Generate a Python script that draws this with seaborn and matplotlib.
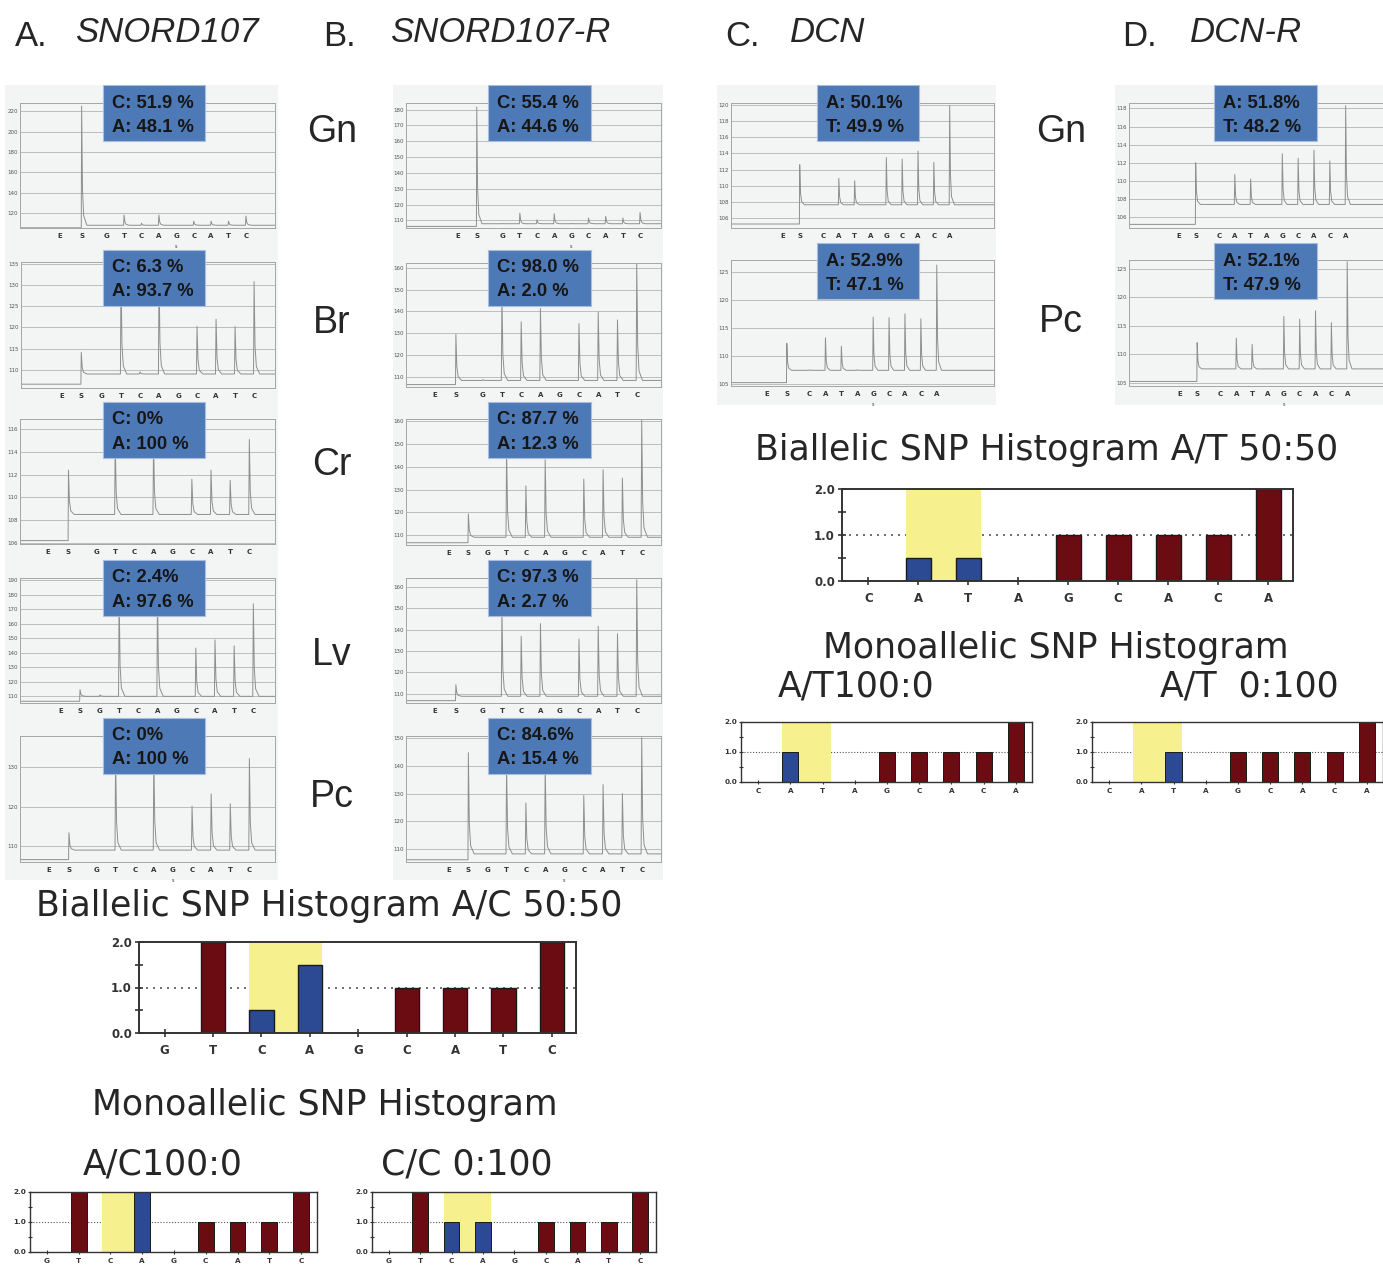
import numpy as np
import pandas as pd
import matplotlib
matplotlib.use("Agg")
import matplotlib.pyplot as plt
from matplotlib.patches import Rectangle
import seaborn as sns

sns.set_theme(style="ticks")
plt.rcParams['font.family'] = ['DejaVu Sans']

# ------------------------------------------------------------------ data
snord_disp = ["E", "S", "G", "T", "C", "A", "G", "C", "A", "T", "C"]
dcn_disp = ["E", "S", "C", "A", "T", "A", "G", "C", "A", "C", "A"]

tissues_ab = ["Gn", "Br", "Cr", "Lv", "Pc"]
tissues_cd = ["Gn", "Pc"]

snord107_pct = [("C: 51.9 %", "A: 48.1 %"), ("C: 6.3 %", "A: 93.7 %"),
                ("C: 0%", "A: 100 %"), ("C: 2.4%", "A: 97.6 %"), ("C: 0%", "A: 100 %")]
snord107r_pct = [("C: 55.4 %", "A: 44.6 %"), ("C: 98.0 %", "A: 2.0 %"),
                 ("C: 87.7 %", "A: 12.3 %"), ("C: 97.3 %", "A: 2.7 %"), ("C: 84.6%", "A: 15.4 %")]
dcn_pct = [("A: 50.1%", "T: 49.9 %"), ("A: 52.9%", "T: 47.1 %")]
dcnr_pct = [("A: 51.8%", "T: 48.2 %"), ("A: 52.1%", "T: 47.9 %")]

# peak heights: S, then the nine nucleotide dispensations
snord107_peaks = [
    [225, 108, 118, 110, 118, 108, 112, 112, 112, 117],
    [114.1, 109.0, 133, 109.5, 133, 109.0, 120.2, 121.9, 120.2, 130.8],
    [112.4, 108.5, 115.0, 108.5, 115.0, 108.5, 111.6, 112.4, 111.5, 115.1],
    [114.6, 111, 180, 110, 180, 110, 143.3, 149, 144.8, 173.8],
    [113.4, 109, 133, 109, 133, 109, 120.1, 123.2, 120.7, 132.1],
]
snord107r_peaks = [
    [181.7, 108, 114.6, 110.4, 114.2, 108, 111.5, 112.6, 111.5, 115],
    [129.5, 108.8, 148, 135.3, 141.4, 108.5, 134.5, 139.8, 136.1, 162.1],
    [119.3, 109, 148, 131.6, 143.1, 109, 134.6, 138.7, 135, 160.4],
    [114.2, 108.75, 150, 136.9, 142.8, 108.75, 135.6, 141.6, 138.1, 163.4],
    [144.6, 108.4, 140, 126.6, 140, 108.4, 129.3, 133.2, 130, 150],
]
dcn_peaks = [
    [112.6, 107.6, 110.9, 110.6, 107.6, 113.5, 113.3, 114.3, 112.9, 120],
    [112.2, 107.5, 113.2, 111.7, 107.5, 116.9, 116.8, 117.5, 116.6, 126.2],
]
dcnr_peaks = [
    [112, 107.4, 110.7, 110.2, 107.4, 113, 112.5, 113.4, 112.2, 118.3],
    [112, 107.4, 112.8, 111.7, 107.4, 116.6, 116.1, 117.6, 115.5, 126.2],
]
# baselines (before S, after S)
snord107_base = [(105.5, 108.0), (106.6, 109.0), (106.2, 108.5), (106.6, 110.0), (106.6, 109.0)]
snord107r_base = [(106.2, 107.9), (106.6, 108.5), (106.6, 109.0), (106.7, 108.75), (106.3, 108.4)]
dcn_base = [(105.2, 107.6), (105.2, 107.4)]
dcnr_base = [(105.2, 107.4), (105.2, 107.4)]
# E and S dispensation times (cycles before the first nucleotide)
snord107_es = [(2.72, 1.44), (2.14, 1.09), (2.52, 1.44), (2.03, 1.04), (2.49, 1.44)]
snord107r_es = [(2.62, 1.51), (2.48, 1.39), (2.02, 0.98), (2.48, 1.39), (2.02, 0.98)]
dcn_es = [(2.53, 1.47), (2.68, 1.43)]
dcnr_es = [(2.53, 1.47), (2.57, 1.47)]

# histograms
ac_labels = ["G", "T", "C", "A", "G", "C", "A", "T", "C"]
ac_biallelic = [0, 2, 0.5, 1.5, 0, 1, 1, 1, 2]
ac_mono_a = [0, 2, 0, 2, 0, 1, 1, 1, 2]
ac_mono_c = [0, 2, 1, 1, 0, 1, 1, 1, 2]
ac_snp = [2, 3]
at_labels = ["C", "A", "T", "A", "G", "C", "A", "C", "A"]
at_biallelic = [0, 0.5, 0.5, 0, 1, 1, 1, 1, 2]
at_mono_a = [0, 1, 0, 0, 1, 1, 1, 1, 2]
at_mono_t = [0, 0, 1, 0, 1, 1, 1, 1, 2]
at_snp = [1, 2]

# ------------------------------------------------------------------ layout / style
W, H = 1383, 1266
fig = plt.figure(figsize=(W / 100, H / 100), dpi=100)
fig.patch.set_facecolor("white")

PANEL = "#f3f4f4"
GRID = "#b4b4b4"
TRACE = "#8f8f8f"
BOXBLUE = "#4d79b6"
MAROON = "#6b0b12"
BLUE = "#2b4a93"
YELLOW = "#f7f08e"
SANS = "Liberation Sans"


def frac(x0, y0, x1, y1):
    return [x0 / W, 1 - y1 / H, (x1 - x0) / W, (y1 - y0) / H]


def add_rect(x0, y0, x1, y1, **kw):
    fig.add_artist(Rectangle((x0 / W, 1 - y1 / H), (x1 - x0) / W, (y1 - y0) / H,
                             transform=fig.transFigure, **kw))


def trace_points(e_s, peaks, base, win):
    xs = [-e_s[1]] + list(range(9))
    pre, post = base
    px = [-win[0], xs[0] - 0.02]
    py = [pre, pre]
    for i, (x, h) in enumerate(zip(xs, peaks)):
        if i > 0:
            px.append(x - 0.03)
            py.append(post)
        px += [x, x + 0.05, x + 0.12, x + 0.3]
        py += [h, post + (h - post) * 0.3, post + (h - post) * 0.08, post]
    px.append(win[1])
    py.append(post)
    return px, py


def pyro(rect_px, disp, e_s, peaks, base, win, ylim, yt, lines, box):
    ax = fig.add_axes(frac(*rect_px))
    ax.set_facecolor(PANEL)
    px, py = trace_points(e_s, peaks, base, win)
    sns.lineplot(x=px, y=py, ax=ax, sort=False, estimator=None,
                 color=TRACE, linewidth=0.7)
    ax.set_xlim(-win[0], win[1])
    ax.set_ylim(*ylim)
    ax.set_yticks(np.arange(yt[0], yt[1] + 0.01, yt[2]))
    ax.yaxis.grid(True, color=GRID, lw=0.6)
    ax.xaxis.grid(False)
    ax.set_xticks([-e_s[0], -e_s[1]] + list(range(9)), disp)
    ax.tick_params(axis="x", length=0, labelsize=5, pad=3.5, colors="#333333")
    for lab in ax.get_xticklabels():
        lab.set_fontweight("bold")
    ax.tick_params(axis="y", length=0, labelsize=4, pad=1.5, colors="#555555")
    ax.set_xlabel("")
    ax.set_ylabel("")
    for s in ax.spines.values():
        s.set_color("#a5a5a5")
        s.set_linewidth(0.7)
    ax.annotate("s", xy=(4, 0), xycoords=("data", "axes fraction"), xytext=(0, -13),
                textcoords="offset points", ha="center", va="center", fontsize=3.5,
                color="#333333")
    bx0, by0, bx1, by1 = box
    add_rect(bx0, by0, bx1, by1, facecolor=BOXBLUE, edgecolor="#a9bedf", lw=0.8, zorder=5)
    for k, t in enumerate(lines):
        fig.text((bx0 + 9) / W, 1 - (by0 + 18 + 24 * k) / H, t, family=SANS,
                 fontsize=13.2, fontweight="bold", color="#161616", ha="left",
                 va="center", zorder=6)
    return ax


def histo(rect_px, labels, vals, snp, big):
    ax = fig.add_axes(frac(*rect_px))
    ax.set_facecolor("white")
    df = pd.DataFrame({"pos": list(range(len(vals))), "val": vals,
                       "kind": ["snp" if i in snp else "ref" for i in range(len(vals))]})
    ax.axhline(1.0, color="#555555", ls=(0, (1.2, 3.0)) if big else (0, (1.0, 1.6)),
               lw=1.2 if big else 0.8, zorder=0.5)
    ax.axvspan(snp[0] - 0.25, snp[-1] + 0.25, color=YELLOW, lw=0, zorder=1)
    sns.barplot(data=df, x="pos", y="val", hue="kind", palette={"ref": MAROON, "snp": BLUE},
                dodge=False, width=0.5, legend=False, saturation=1, edgecolor="#1a1a1a",
                linewidth=1.0 if big else 0.7, ax=ax, zorder=2)
    ax.set_xlim(-0.53, 8.5)
    ax.set_ylim(0, 2.0)
    ax.set_xlabel("")
    ax.set_ylabel("")
    ax.set_xticks(range(len(labels)), labels)
    ax.set_yticks([0, 1, 2], ["0.0", "1.0", "2.0"])
    ax.set_yticks([0.5, 1.5], minor=True)
    fs = 8.5 if big else 5.2
    ln = 6 if big else 3.5
    ax.tick_params(axis="both", which="both", direction="inout", length=ln,
                   width=1.2 if big else 0.8, colors="#333333", labelsize=fs,
                   pad=5 if big else 2.5)
    ax.tick_params(axis="y", which="major", pad=2 if big else 1)
    for lab in ax.get_xticklabels() + ax.get_yticklabels():
        lab.set_fontweight("bold")
        lab.set_color("#333333")
    for s in ax.spines.values():
        s.set_visible(True)
        s.set_color("#333333")
        s.set_linewidth(1.4 if big else 1.0)
    return ax


# gray panels behind pyrograms
for r in [(5, 85, 278, 880), (393, 85, 663, 880), (717, 85, 996, 405), (1115, 85, 1383, 405)]:
    add_rect(*r, facecolor=PANEL, edgecolor="none", zorder=-5)

# ----------------------------------------------------------- panel A and B
a_rects = [(20, 103, 275, 228), (21, 262, 275, 388), (20, 419, 275, 544),
           (20, 578, 275, 703), (20, 736, 275, 862)]
b_rects = [(406, 103, 661, 228), (406, 263, 661, 387), (406, 419, 661, 545),
           (406, 578, 661, 703), (406, 736, 661, 862)]
box_tops = [85, 250, 402, 560, 718]
a_win = [(4.98, 9.67), (4.26, 9.10), (3.97, 9.34), (4.17, 9.13), (4.00, 9.34)]
b_win = [(5.63, 9.22), (3.98, 9.26), (4.21, 9.00), (3.98, 9.26), (4.21, 9.00)]
a_ylim = [(105.3, 228), (105.7, 135.4), (105.9, 116.9), (105.4, 191.6), (106.0, 137.8)]
a_yt = [(120, 220, 20), (110, 135, 5), (106, 116, 2), (110, 190, 10), (110, 130, 10)]
b_ylim = [(105.2, 184.2), (105.5, 162.1), (105.6, 161.0), (105.6, 164.2), (105.5, 150.6)]
b_yt = [(110, 180, 10), (110, 160, 10), (110, 160, 10), (110, 160, 10), (110, 150, 10)]

for i in range(5):
    pyro(a_rects[i], snord_disp, snord107_es[i], snord107_peaks[i], snord107_base[i],
         a_win[i], a_ylim[i], a_yt[i], snord107_pct[i],
         (103, box_tops[i], 205, box_tops[i] + 56))
    pyro(b_rects[i], snord_disp, snord107r_es[i], snord107r_peaks[i], snord107r_base[i],
         b_win[i], b_ylim[i], b_yt[i], snord107r_pct[i],
         (488, box_tops[i], 591, box_tops[i] + 56))

row_y = [132, 323, 465, 655, 797]
for t, y in zip(tissues_ab, row_y):
    fig.text(332 / W, 1 - y / H, t, family=SANS, fontsize=27, ha="center", va="center")

# ----------------------------------------------------------- panel C and D
c_rects = [(731, 103, 994, 228), (731, 260, 994, 386)]
d_rects = [(1129, 103, 1390, 228), (1129, 260, 1390, 386)]
cd_box_tops = [85, 243]
c_win = [(5.81, 10.8), (4.94, 11.6)]
d_win = [(5.68, 10.8), (5.77, 10.7)]
c_ylim = [(104.7, 120.3), (104.6, 127.1)]
c_yt = [(106, 120, 2), (105, 125, 5)]
d_ylim = [(104.8, 118.6), (104.4, 126.5)]
d_yt = [(106, 118, 2), (105, 125, 5)]
for i in range(2):
    pyro(c_rects[i], dcn_disp, dcn_es[i], dcn_peaks[i], dcn_base[i], c_win[i],
         c_ylim[i], c_yt[i], dcn_pct[i], (817, cd_box_tops[i], 919, cd_box_tops[i] + 56))
    pyro(d_rects[i], dcn_disp, dcnr_es[i], dcnr_peaks[i], dcnr_base[i], d_win[i],
         d_ylim[i], d_yt[i], dcnr_pct[i], (1214, cd_box_tops[i], 1317, cd_box_tops[i] + 56))
for t, y in zip(tissues_cd, [132, 322]):
    fig.text(1061 / W, 1 - y / H, t, family=SANS, fontsize=27, ha="center", va="center")

# ----------------------------------------------------------- headers
for x0, letter, x1, name in [(15, "A.", 75, "SNORD107"), (323, "B.", 390, "SNORD107-R"),
                             (725, "C.", 790, "DCN"), (1122, "D.", 1190, "DCN-R")]:
    fig.text(x0 / W, 1 - 37 / H, letter, family=SANS, fontsize=25, ha="left", va="center")
    fig.text(x1 / W, 1 - 33 / H, name, family=SANS, style="italic", fontsize=25,
             ha="left", va="center")

# ----------------------------------------------------------- histograms
TFS = 25
fig.text(329 / W, 1 - 906 / H, "Biallelic SNP Histogram A/C 50:50", fontsize=TFS,
         ha="center", va="center")
histo((139, 942, 576, 1033), ac_labels, ac_biallelic, ac_snp, True)
fig.text(325 / W, 1 - 1105 / H, "Monoallelic SNP Histogram", fontsize=TFS, ha="center", va="center")
fig.text(163 / W, 1 - 1165 / H, "A/C100:0", fontsize=TFS, ha="center", va="center")
fig.text(467 / W, 1 - 1165 / H, "C/C 0:100", fontsize=TFS, ha="center", va="center")
histo((30, 1192, 317, 1252), ac_labels, ac_mono_a, ac_snp, False)
histo((372, 1192, 656, 1252), ac_labels, ac_mono_c, ac_snp, False)

fig.text(1047 / W, 1 - 450 / H, "Biallelic SNP Histogram A/T 50:50", fontsize=TFS,
         ha="center", va="center")
histo((842, 489, 1293, 581), at_labels, at_biallelic, at_snp, True)
fig.text(1056 / W, 1 - 648 / H, "Monoallelic SNP Histogram", fontsize=TFS, ha="center", va="center")
fig.text(856 / W, 1 - 686 / H, "A/T100:0", fontsize=TFS, ha="center", va="center")
fig.text(1249 / W, 1 - 686 / H, "A/T  0:100", fontsize=TFS, ha="center", va="center")
histo((741, 722, 1032, 782), at_labels, at_mono_a, at_snp, False)
histo((1092, 722, 1383, 782), at_labels, at_mono_t, at_snp, False)

fig.savefig("out.png", dpi=100, facecolor="white")
